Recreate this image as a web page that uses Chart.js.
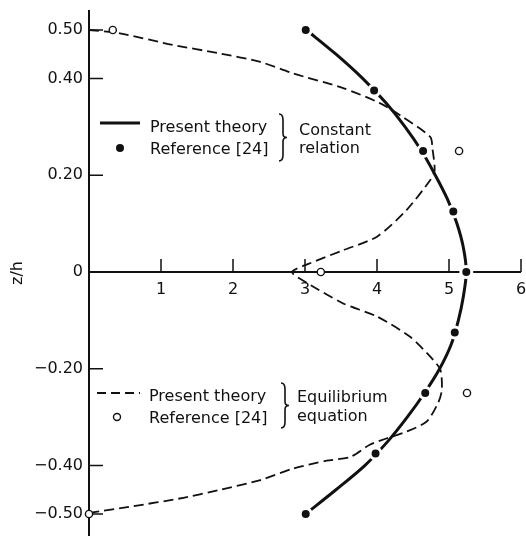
<!DOCTYPE html>
<html>
<head>
<meta charset="utf-8">
<script src="https://cdn.jsdelivr.net/npm/chart.js@4/dist/chart.umd.min.js"></script>
<style>
  html, body { margin: 0; padding: 0; background: #fff; }
  #wrap { width: 526px; height: 536px; position: relative; }
  canvas { display: block; }
</style>
</head>
<body>
<div id="wrap"><canvas id="c" width="526" height="536"></canvas></div>
<script>
// Axis ticks
const xTickValues = [1, 2, 3, 4, 5, 6];
const xTickLabels = ['1', '2', '3', '4', '5', '6'];
const zTickValues = [0.5, 0.4, 0.2, 0, -0.2, -0.4, -0.5];
const zTickLabels = ['0.50', '0.40', '0.20', '0', '\u22120.20', '\u22120.40', '\u22120.50'];

// Constant relation — present theory (solid curve)
const constTheoryZ = [0.5, 0.45, 0.4, 0.35, 0.3, 0.25, 0.2, 0.15, 0.1, 0.05, 0,
                      -0.05, -0.1, -0.15, -0.2, -0.25, -0.3, -0.35, -0.4, -0.45, -0.5];
const constTheoryX = [3.02, 3.43, 3.80, 4.12, 4.39, 4.62, 4.81, 4.98, 5.11, 5.20, 5.24,
                      5.20, 5.13, 5.03, 4.87, 4.66, 4.42, 4.15, 3.83, 3.43, 3.01];

// Constant relation — Reference [24] (filled dots)
const constRefZ = [0.5, 0.375, 0.25, 0.125, 0, -0.125, -0.25, -0.375, -0.5];
const constRefX = [3.01, 3.96, 4.64, 5.06, 5.24, 5.08, 4.67, 3.98, 3.01];

// Equilibrium equation — present theory (dashed curve, traced top to bottom)
const equilTheoryZ = [0.5, 0.493, 0.469, 0.452, 0.434, 0.41, 0.38, 0.349, 0.324, 0.279,
                      0.255, 0.21, 0.19, 0.128, 0.073, 0.045, 0.018, 0,
                      -0.02, -0.065, -0.092, -0.134, -0.175, -0.202, -0.244, -0.27, -0.309,
                      -0.33, -0.344, -0.357, -0.382, -0.39, -0.406, -0.43, -0.45, -0.468, -0.484, -0.498];
const equilTheoryX = [0.0, 0.43, 1.17, 1.8, 2.38, 2.84, 3.53, 4.04, 4.32, 4.74,
                      4.77, 4.80, 4.74, 4.41, 4.0, 3.53, 3.07, 2.82,
                      3.0, 3.53, 4.0, 4.46, 4.74, 4.88, 4.9, 4.85, 4.69,
                      4.41, 4.13, 3.9, 3.63, 3.3, 2.84, 2.38, 1.82, 1.26, 0.61, 0.0];

// Equilibrium equation — Reference [24] (open circles)
const equilRefZ = [0.5, 0.25, 0, -0.25, -0.5];
const equilRefX = [0.33, 5.14, 3.22, 5.25, 0.0];

const INK = '#111';
const FONT = '"DejaVu Sans", sans-serif';
const FONT_SIZE = 16;

const toPoints = (xs, zs) => xs.map((x, i) => ({ x: x, y: zs[i] }));

// Axis lines and inward tick marks
const axesPlugin = {
  id: 'axesLines',
  beforeDatasetsDraw(chart) {
    const { ctx, scales: { x, y }, chartArea } = chart;
    const x0 = x.getPixelForValue(0);
    const y0 = y.getPixelForValue(0);
    ctx.save();
    ctx.strokeStyle = INK;
    ctx.lineCap = 'butt';
    // vertical axis
    ctx.lineWidth = 2;
    ctx.beginPath();
    ctx.moveTo(x0, chartArea.top);
    ctx.lineTo(x0, chartArea.bottom);
    ctx.stroke();
    // horizontal axis
    ctx.beginPath();
    ctx.moveTo(x0, y0);
    ctx.lineTo(x.getPixelForValue(6), y0);
    ctx.stroke();
    // ticks
    ctx.lineWidth = 1.5;
    ctx.beginPath();
    zTickValues.forEach(v => {
      if (v === 0) return;
      const py = y.getPixelForValue(v);
      ctx.moveTo(x0, py);
      ctx.lineTo(x0 + 14, py);
    });
    xTickValues.forEach(v => {
      const px = x.getPixelForValue(v);
      ctx.moveTo(px, y0);
      ctx.lineTo(px, y0 - 13);
    });
    ctx.stroke();
    ctx.restore();
  }
};

// Key with braces
const keyPlugin = {
  id: 'keyBlock',
  afterDraw(chart) {
    const { ctx } = chart;
    ctx.save();
    ctx.fillStyle = INK;
    ctx.strokeStyle = INK;
    ctx.font = FONT_SIZE + 'px ' + FONT;
    ctx.textBaseline = 'middle';
    ctx.textAlign = 'left';

    const brace = (bx, top, bot) => {
      const mid = (top + bot) / 2;
      ctx.lineWidth = 1.6;
      ctx.beginPath();
      ctx.moveTo(bx, top);
      ctx.quadraticCurveTo(bx + 4, top, bx + 4, top + 6);
      ctx.lineTo(bx + 4, mid - 4);
      ctx.quadraticCurveTo(bx + 4, mid, bx + 8, mid);
      ctx.quadraticCurveTo(bx + 4, mid, bx + 4, mid + 4);
      ctx.lineTo(bx + 4, bot - 6);
      ctx.quadraticCurveTo(bx + 4, bot, bx, bot);
      ctx.stroke();
    };

    // Constant relation group
    ctx.lineWidth = 3;
    ctx.beginPath();
    ctx.moveTo(100, 123);
    ctx.lineTo(140, 123);
    ctx.stroke();
    ctx.beginPath();
    ctx.arc(120, 148, 4, 0, Math.PI * 2);
    ctx.fill();
    ctx.fillText('Present theory', 150, 128);
    ctx.fillText('Reference [24]', 150, 150);
    brace(279, 114, 161);
    ctx.fillText('Constant', 299, 131);
    ctx.fillText('relation', 299, 149);

    // Equilibrium equation group
    ctx.lineWidth = 1.8;
    ctx.setLineDash([9, 5]);
    ctx.beginPath();
    ctx.moveTo(97, 393);
    ctx.lineTo(140, 393);
    ctx.stroke();
    ctx.setLineDash([]);
    ctx.lineWidth = 1.4;
    ctx.beginPath();
    ctx.arc(117, 417, 3.5, 0, Math.PI * 2);
    ctx.fillStyle = '#fff';
    ctx.fill();
    ctx.stroke();
    ctx.fillStyle = INK;
    ctx.fillText('Present theory', 149, 397);
    ctx.fillText('Reference [24]', 149, 419);
    brace(281, 383, 428);
    ctx.fillText('Equilibrium', 297, 398);
    ctx.fillText('equation', 297, 417);
    ctx.restore();
  }
};

new Chart(document.getElementById('c'), {
  type: 'scatter',
  data: {
    datasets: [
      {
        label: 'Reference [24] (constant relation)',
        data: toPoints(constRefX, constRefZ),
        showLine: false,
        pointRadius: 5.5,
        pointBackgroundColor: INK,
        pointBorderColor: '#fff',
        pointBorderWidth: 3,
        order: 0,
        clip: false
      },
      {
        label: 'Reference [24] (equilibrium equation)',
        data: toPoints(equilRefX, equilRefZ),
        showLine: false,
        pointRadius: 3.6,
        pointBackgroundColor: '#fff',
        pointBorderColor: INK,
        pointBorderWidth: 1.4,
        order: 1,
        clip: false
      },
      {
        label: 'Present theory (constant relation)',
        data: toPoints(constTheoryX, constTheoryZ),
        showLine: true,
        borderColor: INK,
        borderWidth: 3,
        tension: 0.3,
        pointRadius: 0,
        order: 2,
        clip: false
      },
      {
        label: 'Present theory (equilibrium equation)',
        data: toPoints(equilTheoryX, equilTheoryZ),
        showLine: true,
        borderColor: INK,
        borderWidth: 1.8,
        borderDash: [10, 5],
        tension: 0.25,
        pointRadius: 0,
        order: 3,
        clip: false
      }
    ]
  },
  options: {
    responsive: false,
    animation: false,
    devicePixelRatio: 1,
    layout: { autoPadding: false, padding: { top: 10, right: 5, bottom: 0, left: 0 } },
    plugins: {
      legend: { display: false },
      tooltip: { enabled: false }
    },
    scales: {
      x: {
        type: 'linear',
        position: { y: 0 },
        min: 0,
        max: 6,
        grid: { display: false, drawTicks: false },
        border: { display: false },
        afterBuildTicks: s => { s.ticks = xTickValues.map(v => ({ value: v })); },
        afterFit: s => {
          s.height = 0;
          s.paddingLeft = 0; s.paddingRight = 0; s.paddingTop = 0; s.paddingBottom = 0;
        },
        ticks: {
          autoSkip: false,
          maxRotation: 0,
          padding: 8,
          color: INK,
          font: { family: FONT, size: FONT_SIZE },
          callback: (v, i) => xTickLabels[i]
        }
      },
      y: {
        type: 'linear',
        position: 'left',
        min: -0.5455,
        max: 0.5413,
        grid: { display: false, drawTicks: false },
        border: { display: false },
        afterBuildTicks: s => { s.ticks = zTickValues.map(v => ({ value: v })); },
        afterFit: s => {
          s.width = 89;
          s.paddingLeft = 0; s.paddingRight = 0; s.paddingTop = 0; s.paddingBottom = 0;
        },
        title: {
          display: true,
          text: 'z/h',
          color: INK,
          font: { family: FONT, size: FONT_SIZE },
          padding: { top: 8, bottom: 0 }
        },
        ticks: {
          autoSkip: false,
          padding: 6,
          color: INK,
          font: { family: FONT, size: FONT_SIZE },
          callback: (v, i) => zTickLabels[i]
        }
      }
    }
  },
  plugins: [axesPlugin, keyPlugin]
});
</script>
</body>
</html>
